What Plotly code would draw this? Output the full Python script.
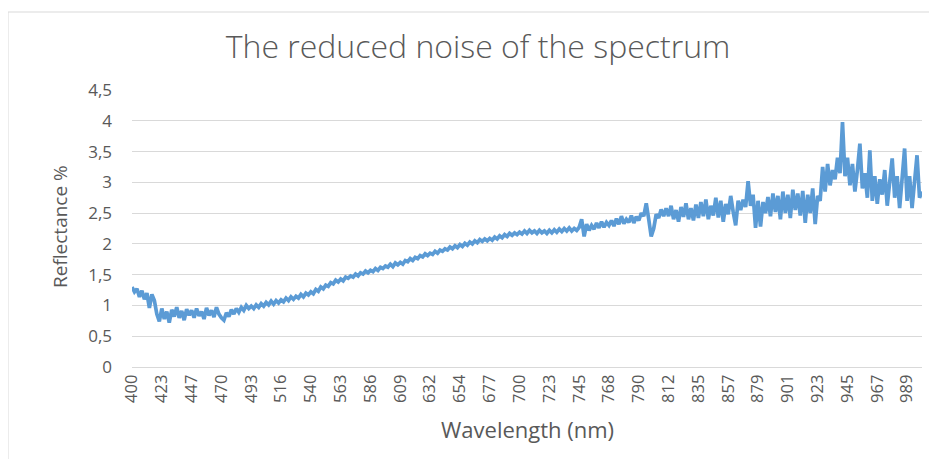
import plotly.graph_objects as go

# Tick labels shown on the category axis (every 12th sample)
wavelength_labels = ["400", "423", "447", "470", "493", "516", "540", "563", "586",
                     "609", "632", "654", "677", "700", "723", "745", "768", "790",
                     "812", "835", "857", "879", "901", "923", "945", "967", "989"]
label_step = 12

# Reflectance (%); each row covers one label interval
reflectance = [
    1.30, 1.22, 1.27, 1.14, 1.24, 1.10, 1.20, 0.96, 1.18, 1.08, 0.86, 0.74,
    0.95, 0.78, 0.90, 0.72, 0.93, 0.82, 0.97, 0.80, 0.91, 0.76, 0.94, 0.84,
    0.92, 0.80, 0.95, 0.83, 0.90, 0.78, 0.96, 0.84, 0.92, 0.81, 0.97, 0.86,
    0.80, 0.76, 0.88, 0.82, 0.93, 0.86, 0.95, 0.89, 0.97, 0.92, 1.00, 0.95,
    0.99, 0.95, 1.01, 0.97, 1.03, 0.99, 1.05, 1.01, 1.07, 1.02, 1.08, 1.04,
    1.09, 1.06, 1.12, 1.08, 1.14, 1.10, 1.15, 1.12, 1.18, 1.14, 1.20, 1.17,
    1.22, 1.19, 1.26, 1.23, 1.30, 1.27, 1.33, 1.31, 1.37, 1.35, 1.41, 1.38,
    1.43, 1.40, 1.46, 1.44, 1.48, 1.46, 1.51, 1.48, 1.53, 1.51, 1.56, 1.53,
    1.57, 1.55, 1.60, 1.57, 1.62, 1.60, 1.64, 1.62, 1.67, 1.63, 1.69, 1.66,
    1.70, 1.67, 1.73, 1.71, 1.76, 1.73, 1.78, 1.76, 1.81, 1.79, 1.84, 1.81,
    1.85, 1.83, 1.88, 1.85, 1.90, 1.88, 1.92, 1.90, 1.95, 1.92, 1.97, 1.94,
    1.99, 1.96, 2.01, 1.98, 2.03, 2.00, 2.05, 2.02, 2.07, 2.04, 2.08, 2.05,
    2.09, 2.06, 2.11, 2.08, 2.13, 2.10, 2.15, 2.12, 2.17, 2.14, 2.18, 2.15,
    2.19, 2.16, 2.21, 2.17, 2.22, 2.18, 2.21, 2.17, 2.22, 2.18, 2.21, 2.17,
    2.22, 2.18, 2.23, 2.19, 2.24, 2.20, 2.25, 2.21, 2.26, 2.21, 2.25, 2.22,
    2.27, 2.40, 2.12, 2.32, 2.22, 2.30, 2.24, 2.34, 2.26, 2.36, 2.27, 2.35,
    2.30, 2.38, 2.29, 2.41, 2.32, 2.45, 2.33, 2.40, 2.35, 2.46, 2.34, 2.44,
    2.38, 2.50, 2.45, 2.66, 2.40, 2.12, 2.25, 2.48, 2.42, 2.56, 2.45, 2.58,
    2.45, 2.62, 2.40, 2.55, 2.36, 2.60, 2.44, 2.66, 2.40, 2.58, 2.38, 2.64,
    2.42, 2.68, 2.45, 2.72, 2.40, 2.62, 2.46, 2.75, 2.43, 2.70, 2.36, 2.65,
    2.48, 2.78, 2.52, 2.30, 2.70, 2.55, 2.72, 2.60, 3.02, 2.62, 2.80, 2.26,
    2.70, 2.28, 2.68, 2.50, 2.76, 2.45, 2.82, 2.52, 2.78, 2.40, 2.85, 2.50,
    2.80, 2.42, 2.88, 2.55, 2.82, 2.46, 2.86, 2.34, 2.80, 2.50, 2.90, 2.32,
    2.78, 2.70, 3.25, 2.85, 3.30, 2.95, 3.20, 3.05, 3.40, 3.15, 3.98, 3.10,
    3.40, 2.95, 3.30, 2.85, 3.20, 3.63, 2.90, 3.15, 2.75, 3.52, 2.70, 3.10,
    2.65, 3.05, 2.80, 3.20, 2.62, 3.00, 3.39, 2.75, 3.10, 2.58, 3.05, 3.55,
    2.70, 3.10, 2.58, 3.00, 3.44, 2.75, 2.85,
]

y_tick_values = [0, 0.5, 1, 1.5, 2, 2.5, 3, 3.5, 4, 4.5]
y_tick_labels = ["0", "0,5", "1", "1,5", "2", "2,5", "3", "3,5", "4", "4,5"]

sample_index = list(range(len(reflectance)))
x_tick_positions = [i * label_step for i in range(len(wavelength_labels))]

FONT = "'Open Sans', Lato, sans-serif"
GRAY = "#595959"
GRID = "#d9d9d9"

fig = go.Figure()
fig.add_trace(go.Scatter(
    x=sample_index, y=reflectance, mode="lines",
    line=dict(color="#5b9bd5", width=3.7),
    hoverinfo="y", showlegend=False,
))

OFF = 8  # page offset of the figure inside the browser window
W, H = 937, 459
# desired plot area in window pixels: x 132..922, y 90..367
pl, pr, pt, pb = 132 - OFF, 922 - OFF, 90 - OFF, 367 - OFF
L, T = pl, pt
pw, ph = pr - pl, pb - pt
R, B = W - L - pw, H - T - ph

def px_x(p):
    return (p - OFF - L) / pw

def px_y(p):
    return (T + ph - (p - OFF)) / ph

fig.update_layout(
    width=W, height=H,
    margin=dict(l=L, r=R, t=T, b=B, pad=0),
    paper_bgcolor="white", plot_bgcolor="white",
    title=dict(text="The reduced noise of the spectrum",
               x=(478 - OFF) / W, xref="container", xanchor="center",
               y=1 - (47 - OFF) / H, yref="container", yanchor="middle",
               font=dict(family=FONT, size=32, color=GRAY, weight=300)),
    xaxis=dict(range=[0, len(reflectance) - 1], tickmode="array",
               tickvals=x_tick_positions, ticktext=wavelength_labels,
               tickangle=-90, showgrid=False, zeroline=False,
               showline=True, linecolor=GRID, linewidth=1,
               ticks="", ticklen=0,
               tickfont=dict(family=FONT, size=16.5, color=GRAY)),
    yaxis=dict(range=[0, 4.5], tickmode="array",
               tickvals=y_tick_values, ticktext=y_tick_labels,
               showgrid=True, gridcolor=GRID, gridwidth=1,
               zeroline=False, showline=False, ticks="",
               ticklabelstandoff=19,
               tickfont=dict(family=FONT, size=17, color=GRAY)),
    annotations=[
        dict(text="Reflectance %", xref="paper", yref="paper",
             x=px_x(60), y=px_y(227), textangle=-90, showarrow=False,
             xanchor="center", yanchor="middle",
             font=dict(family=FONT, size=19, color=GRAY)),
        dict(text="Wavelength (nm)", xref="paper", yref="paper",
             x=px_x(527), y=px_y(429), showarrow=False,
             xanchor="center", yanchor="middle",
             font=dict(family=FONT, size=22, color=GRAY)),
    ],
    shapes=[dict(type="rect", xref="paper", yref="paper",
                 x0=px_x(8), x1=px_x(960), y0=px_y(480), y1=px_y(12),
                 line=dict(color=GRID, width=1), layer="below")],
)

fig.write_html("out.html")
